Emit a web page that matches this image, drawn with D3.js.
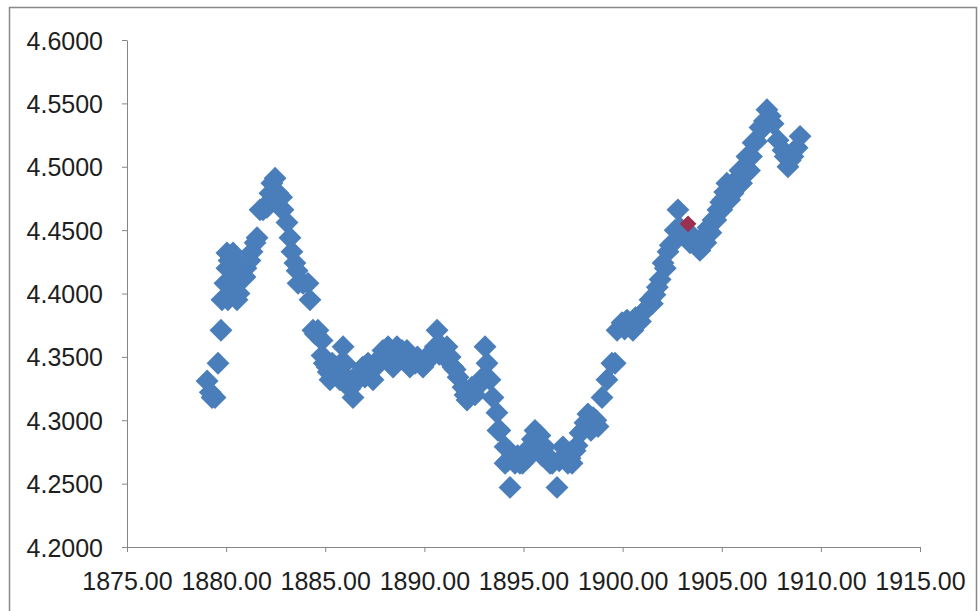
<!DOCTYPE html>
<html>
<head>
<meta charset="utf-8">
<script src="https://cdn.jsdelivr.net/npm/d3@7"></script>
<style>
  html, body { margin: 0; padding: 0; background: #fff; }
  svg { display: block; }
</style>
</head>
<body>
<div id="chart"></div>
<script>
// main series (blue diamonds)
const years = [
  1879.04, 1879.20, 1879.29, 1879.44, 1879.59, 1879.74, 1879.79, 1879.94, 1880.04, 1880.04,
  1880.09, 1880.20, 1880.30, 1880.45, 1880.55, 1880.60, 1880.70, 1880.85, 1881.10, 1881.20,
  1881.31, 1881.46, 1881.56, 1881.71, 1881.86, 1882.06, 1882.21, 1882.31, 1882.47, 1882.62,
  1882.72, 1882.87, 1883.07, 1883.22, 1883.32, 1883.47, 1883.58, 1883.63, 1883.88, 1884.13,
  1884.23, 1884.38, 1884.63, 1884.84, 1884.84, 1885.09, 1885.24, 1885.49, 1885.59, 1885.74,
  1885.90, 1886.00, 1886.15, 1886.40, 1886.65, 1886.90, 1887.16, 1887.41, 1887.66, 1887.91,
  1888.17, 1888.42, 1888.62, 1888.87, 1889.12, 1889.27, 1889.53, 1889.78, 1889.93, 1890.18,
  1890.44, 1890.64, 1890.89, 1891.14, 1891.44, 1891.70, 1891.95, 1892.15, 1892.40, 1892.65,
  1892.96, 1893.06, 1893.16, 1893.31, 1893.46, 1893.66, 1893.71, 1893.81, 1894.07, 1894.07,
  1894.32, 1894.57, 1894.82, 1895.08, 1895.33, 1895.58, 1895.68, 1895.83, 1896.08, 1896.34,
  1896.69, 1896.99, 1897.24, 1897.45, 1897.60, 1897.85, 1898.00, 1898.25, 1898.51, 1898.76,
  1898.96, 1899.21, 1899.46, 1899.62, 1899.72, 1899.97, 1900.22, 1900.52, 1900.78, 1901.03,
  1901.38, 1901.63, 1901.89, 1902.04, 1902.29, 1902.54, 1902.79, 1902.89, 1903.55, 1903.90,
  1904.05, 1904.31, 1904.56, 1904.81, 1905.00, 1905.06, 1905.26, 1905.40, 1905.57, 1905.92,
  1906.00, 1906.27, 1906.40, 1906.58, 1906.93, 1907.28, 1907.59, 1907.84, 1908.09, 1908.34,
  1908.59, 1908.95,
  // in-between months that thicken the bands
  1880.15, 1880.35, 1880.65, 1880.95, 1881.00, 1882.15, 1882.40, 1882.80, 1884.50, 1884.95,
  1885.15, 1885.35, 1885.80, 1886.25, 1886.50, 1886.75, 1887.00, 1887.25, 1887.55, 1887.80,
  1888.05, 1888.30, 1888.55, 1888.75, 1889.00, 1889.40, 1889.65, 1890.05, 1890.30, 1890.55,
  1890.75, 1891.00, 1891.30, 1891.55, 1892.05, 1892.30, 1892.55, 1892.80, 1894.20, 1894.45,
  1894.70, 1894.95, 1895.20, 1895.45, 1895.95, 1896.20, 1896.45, 1896.80, 1897.10, 1897.35,
  1897.70, 1898.10, 1898.40, 1898.65, 1900.10, 1900.40, 1900.65, 1900.90, 1901.20, 1901.50,
  1901.75, 1902.15, 1902.40, 1902.65, 1903.10, 1903.40, 1903.70, 1904.20, 1904.45, 1904.70,
  1904.95, 1905.15, 1905.50, 1905.75, 1906.10, 1906.50, 1906.75, 1907.05, 1907.15, 1907.45,
  1908.20, 1908.45, 1908.80
];
const values = [
  4.331, 4.322, 4.318, 4.318, 4.345, 4.371, 4.395, 4.408, 4.420, 4.432,
  4.395, 4.408, 4.420, 4.408, 4.395, 4.408, 4.420, 4.420, 4.426, 4.426,
  4.433, 4.440, 4.444, 4.466, 4.466, 4.468, 4.479, 4.487, 4.491, 4.479,
  4.468, 4.466, 4.456, 4.444, 4.433, 4.424, 4.418, 4.408, 4.408, 4.408,
  4.395, 4.371, 4.371, 4.363, 4.351, 4.342, 4.332, 4.342, 4.342, 4.332,
  4.358, 4.345, 4.332, 4.318, 4.332, 4.342, 4.345, 4.332, 4.345, 4.355,
  4.358, 4.342, 4.358, 4.355, 4.355, 4.342, 4.345, 4.345, 4.342, 4.350,
  4.355, 4.371, 4.358, 4.358, 4.342, 4.334, 4.326, 4.316, 4.326, 4.326,
  4.334, 4.358, 4.345, 4.332, 4.318, 4.306, 4.292, 4.292, 4.279, 4.266,
  4.247, 4.266, 4.266, 4.272, 4.279, 4.292, 4.279, 4.288, 4.279, 4.266,
  4.247, 4.279, 4.266, 4.266, 4.276, 4.290, 4.292, 4.305, 4.302, 4.295,
  4.318, 4.332, 4.345, 4.345, 4.371, 4.377, 4.379, 4.371, 4.379, 4.385,
  4.395, 4.399, 4.411, 4.424, 4.433, 4.440, 4.466, 4.452, 4.445, 4.434,
  4.445, 4.452, 4.458, 4.466, 4.466, 4.474, 4.487, 4.474, 4.479, 4.497,
  4.487, 4.508, 4.497, 4.519, 4.531, 4.545, 4.534, 4.521, 4.513, 4.500,
  4.508, 4.524,
  4.426, 4.432, 4.400, 4.413, 4.420, 4.472, 4.481, 4.476, 4.368, 4.345,
  4.338, 4.345, 4.345, 4.325, 4.332, 4.338, 4.334, 4.338, 4.342, 4.350,
  4.350, 4.352, 4.350, 4.348, 4.350, 4.350, 4.350, 4.345, 4.350, 4.358,
  4.352, 4.350, 4.350, 4.340, 4.320, 4.322, 4.320, 4.330, 4.268, 4.272,
  4.272, 4.266, 4.270, 4.285, 4.272, 4.272, 4.266, 4.268, 4.272, 4.270,
  4.280, 4.298, 4.292, 4.300, 4.372, 4.375, 4.381, 4.378, 4.388, 4.392,
  4.405, 4.420, 4.438, 4.450, 4.448, 4.440, 4.440, 4.440, 4.448, 4.458,
  4.472, 4.480, 4.486, 4.490, 4.495, 4.508, 4.520, 4.530, 4.536, 4.540,
  4.508, 4.505, 4.515
];
// highlighted point (red diamond)
const markYears = [1903.30];
const markValues = [4.455];

const xTicks = [1875, 1880, 1885, 1890, 1895, 1900, 1905, 1910, 1915];
const yTicks = [4.20, 4.25, 4.30, 4.35, 4.40, 4.45, 4.50, 4.55, 4.60];

const width = 980, height = 611;
const plot = { left: 127, right: 920, top: 40, bottom: 547 };

const svg = d3.select("#chart").append("svg")
    .attr("width", width)
    .attr("height", height);

// chart frame
svg.append("rect")
    .attr("x", 9.5).attr("y", 7.5)
    .attr("width", 967).attr("height", 620)
    .attr("fill", "#fff")
    .attr("stroke", "#898989")
    .attr("stroke-width", 1.5);

const x = d3.scaleLinear().domain([1875, 1915]).range([plot.left, plot.right]);
const y = d3.scaleLinear().domain([4.2, 4.6]).range([plot.bottom, plot.top]);

const fontFamily = "'Liberation Sans', Arial, sans-serif";

const yAxis = svg.append("g")
    .attr("transform", `translate(${plot.left},0)`)
    .call(d3.axisLeft(y).tickValues(yTicks).tickSize(5).tickSizeOuter(0)
        .tickPadding(19).tickFormat(d3.format(".4f")));

const xAxis = svg.append("g")
    .attr("transform", `translate(0,${plot.bottom})`)
    .call(d3.axisBottom(x).tickValues(xTicks).tickSize(5).tickSizeOuter(0)
        .tickPadding(20).tickFormat(d3.format(".2f")));

[xAxis, yAxis].forEach(g => {
    g.select(".domain").attr("stroke", "#868686");
    g.selectAll(".tick line").attr("stroke", "#868686");
    g.selectAll(".tick text")
        .attr("fill", "#1e1e1e")
        .style("font-family", fontFamily)
        .style("font-size", "25px");
});
yAxis.selectAll(".tick text").attr("dy", "0.36em");

const main = years.map((yr, i) => ({ x: yr, y: values[i] }));
const marked = markYears.map((yr, i) => ({ x: yr, y: markValues[i] }));

const diamond = d3.symbol().type(d3.symbolSquare);

svg.append("g")
    .selectAll("path")
    .data(main)
    .enter().append("path")
    .attr("d", diamond.size(262)())
    .attr("transform", d => `translate(${x(d.x)},${y(d.y)}) rotate(45)`)
    .attr("fill", "#4a7ebb");

svg.append("g")
    .selectAll("path")
    .data(marked)
    .enter().append("path")
    .attr("d", d3.symbol().type(d3.symbolSquare).size(140)())
    .attr("transform", d => `translate(${x(d.x)},${y(d.y)}) rotate(45)`)
    .attr("fill", "#9b3050");
</script>
</body>
</html>
